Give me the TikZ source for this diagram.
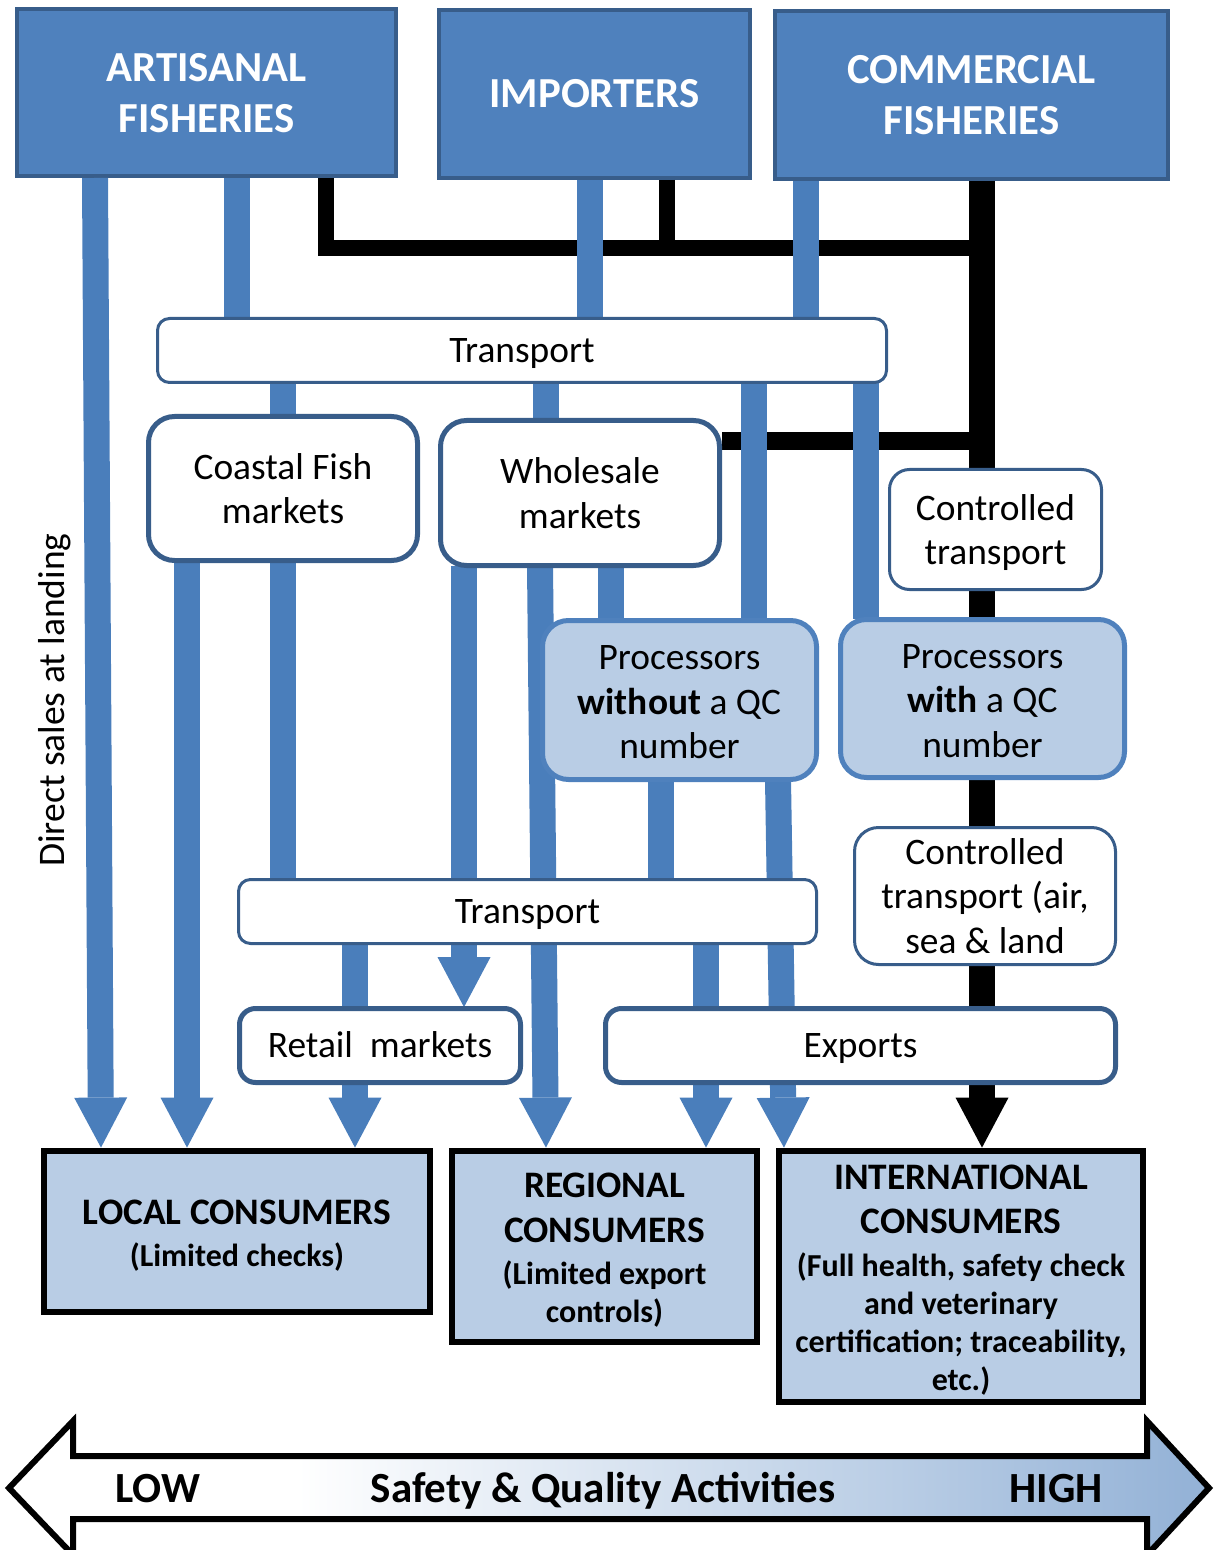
\documentclass[tikz,border=0pt]{standalone}
\usepackage{fontspec}
\setmainfont{Carlito}
\usetikzlibrary{arrows.meta}
\definecolor{topfill}{RGB}{79,129,189}
\definecolor{topline}{RGB}{56,93,138}
\definecolor{barblue}{RGB}{74,126,187}
\definecolor{lightfill}{RGB}{185,205,229}
\definecolor{procline}{RGB}{79,129,189}
\definecolor{highblue}{RGB}{149,179,215}
\pgfdeclarehorizontalshading{lowhigh}{100bp}{color(0bp)=(white); color(37bp)=(white); color(49.5bp)=(white!50!lightfill); color(62bp)=(lightfill); color(74bp)=(highblue); color(100bp)=(highblue)}
\tikzset{
  topbox/.style={draw=topline, line width=2pt, fill=topfill, text=white,
    font=\fontsize{21.4}{25.5}\selectfont\bfseries, align=flush center, inner sep=0pt},
  wbox/.style={draw=topline, fill=white, line width=2.5pt, rounded corners=13pt,
    font=\fontsize{18.7}{22.25}\selectfont, align=flush center, inner sep=0pt},
  thinbox/.style={wbox, line width=1.5pt},
  onebox/.style={text height=12.2pt, text depth=0pt},
  procbox/.style={draw=procline, fill=lightfill, line width=2.5pt, rounded corners=13pt,
    font=\fontsize{18.7}{22.25}\selectfont, align=flush center, inner sep=0pt},
  consbox/.style={draw=black, fill=lightfill, line width=3pt,
    font=\fontsize{18.7}{19}\selectfont\bfseries, align=flush center, inner sep=0pt},
  bar/.style={draw=barblue, line width=13pt},
  bararrow/.style={bar, -{Triangle[width=26.5pt,length=25pt,line width=0pt]}, shorten >=1.5pt},
  blk/.style={draw=black, line width=8pt},
  blkthick/.style={draw=black, line width=13pt},
  bigtext/.style={font=\fontsize{21.5}{26}\selectfont\bfseries, anchor=base, inner sep=0pt},
}
\newcommand{\parsize}{\fontsize{16}{19}\selectfont}
\newcommand{\lift}[1]{\rule{0pt}{#1}}
\begin{document}
\begin{tikzpicture}[x=0.5pt, y=-0.5pt]
\useasboundingbox (0,0) rectangle (1215,1550);

% ---------- top nodes ----------
\node[topbox, minimum width=189.5pt, minimum height=83.5pt, text width=189.5pt] (art) at (206.5,92.5) {\lift{15pt}ARTISANAL\\FISHERIES};
\node[topbox, minimum width=155.5pt, minimum height=84pt, text width=155.5pt] (imp) at (594.5,94) {IMPORTERS};
\node[topbox, minimum width=196.5pt, minimum height=84pt, text width=196.5pt] (com) at (971.5,95) {COMMERCIAL\\FISHERIES};

\coordinate (jA) at (982,248);
\coordinate (jB) at (982,441);

% ---------- black connectors ----------
\draw[blk] (326,0 |- art.south) |- (jA);
\draw[blk] (667,0 |- imp.south) -- (667,0 |- jA);
\draw[black, line width=9pt] (722,441) -- (jB);

% node frames (drawn later) for connector anchors
\path (522,350.5) node[minimum width=364.5pt, minimum height=32pt, inner sep=0pt] (t1) {};
\path (283,488.5) node[minimum width=134.5pt, minimum height=72pt, inner sep=0pt] (cfm) {};
\path (580,493) node[minimum width=139.5pt, minimum height=72.5pt, inner sep=0pt] (wsm) {};
\path (995.5,529.5) node[minimum width=106pt, minimum height=60pt, inner sep=0pt] (ct) {};
\path (679.5,700) node[minimum width=137pt, minimum height=79.5pt, inner sep=0pt] (pwo) {};
\path (982.5,698.5) node[minimum width=142pt, minimum height=79pt, inner sep=0pt] (pw) {};
\path (985,896) node[minimum width=130.5pt, minimum height=68.5pt, inner sep=0pt] (cta) {};
\path (527.5,911.5) node[minimum width=289pt, minimum height=32pt, inner sep=0pt] (t2) {};
\path (380,1045.5) node[minimum width=140.5pt, minimum height=37pt, inner sep=0pt] (rm) {};
\path (860.5,1045.5) node[minimum width=255pt, minimum height=37pt, inner sep=0pt] (exp) {};
\path (237,1231.5) node[minimum width=193pt, minimum height=80.5pt, inner sep=0pt] (lc) {};
\path (604.5,1246.5) node[minimum width=152.5pt, minimum height=95.5pt, inner sep=0pt] (rc) {};
\path (961,1276.5) node[minimum width=182pt, minimum height=125.5pt, inner sep=0pt] (ic) {};

\draw[blkthick, -{Triangle[width=26.5pt,length=25pt,line width=0pt]}, shorten >=1.5pt] (982,0 |- com.south) -- (982,0 |- ic.north);

% ---------- blue connectors ----------
\draw[bararrow] (95,0 |- art.south) -- (101,0 |- lc.north);
\draw[bar] (237,0 |- art.south) -- (237,0 |- t1.north);
\draw[bar] (590,0 |- imp.south) -- (590,0 |- t1.north);
\draw[bar] (806,0 |- com.south) -- (806,0 |- t1.north);
\draw[bar] (283,0 |- t1.south) -- (283,0 |- cfm.north);
\draw[bar] (546,0 |- t1.south) -- (546,0 |- wsm.north);
\draw[bar] (754,0 |- t1.south) -- (754,0 |- pwo.north);
\draw[bar] (866,0 |- t1.south) -- (866,0 |- pw.north);
\draw[bararrow] (187,0 |- cfm.south) -- (187,0 |- lc.north);
\draw[bar] (283,0 |- cfm.south) -- (283,0 |- t2.north);
\draw[bararrow, shorten >=0.5pt] (464,0 |- wsm.south) -- (464,0 |- rm.north);
\draw[bararrow] (540,0 |- wsm.south) -- (546,0 |- rc.north);
\draw[bar] (611,0 |- wsm.south) -- (611,0 |- pwo.north);
\draw[bar] (661,0 |- pwo.south) -- (661,0 |- t2.north);
\draw[bararrow] (778,0 |- pwo.south) -- (784,0 |- ic.north);
\draw[bararrow] (355,0 |- t2.south) -- (355,0 |- lc.north);
\draw[bararrow] (706,0 |- t2.south) -- (706,0 |- rc.north);

% ---------- boxes ----------
\node[thinbox, onebox, rounded corners=6pt, minimum width=364.5pt, minimum height=32pt] (t1b) at (t1) {Transport};
\node[wbox, minimum width=134.5pt, minimum height=72pt, text width=134.5pt] (cfmb) at (cfm) {Coastal Fish\\markets};
\node[wbox, minimum width=139.5pt, minimum height=72.5pt, text width=139.5pt] (wsmb) at (wsm) {Wholesale\\markets};
\node[thinbox, rounded corners=10pt, minimum width=106pt, minimum height=60pt, text width=106pt] (ctb) at (ct) {\lift{15.9pt}Controlled\\transport};
\node[procbox, minimum width=137pt, minimum height=79.5pt, text width=137pt] (pwob) at (pwo) {\lift{14.3pt}Processors\\\textbf{without} a QC\\number};
\node[procbox, minimum width=142pt, minimum height=79pt, text width=142pt] (pwb) at (pw) {\lift{14.3pt}Processors\\\textbf{with} a QC\\number};
\node[thinbox, rounded corners=12pt, minimum width=130.5pt, minimum height=68.5pt, text width=130.5pt] (ctab) at (cta) {Controlled\\transport (air,\\sea \& land};
\node[thinbox, onebox, rounded corners=6pt, minimum width=289pt, minimum height=32pt] (t2b) at (t2) {Transport};
\node[wbox, onebox, rounded corners=8pt, minimum width=140.5pt, minimum height=37pt] (rmb) at (rm) {Retail\ \ markets};
\node[wbox, onebox, rounded corners=8pt, minimum width=255pt, minimum height=37pt] (expb) at (exp) {Exports};

\node[consbox, minimum width=193pt, minimum height=80.5pt, text width=193pt] (lcb) at (lc)
  {\lift{16.3pt}LOCAL CONSUMERS\\[2pt]\parsize(Limited checks)};
\node[consbox, minimum width=152.5pt, minimum height=95.5pt, text width=152.5pt] (rcb) at (rc)
  {\lift{16.3pt}REGIONAL\\[3.5pt]CONSUMERS\\[2pt]\parsize(Limited export\\controls)};
\node[consbox, minimum width=182pt, minimum height=125.5pt, text width=182pt] (icb) at (ic)
  {\lift{16.3pt}INTERNATIONAL\\[3pt]CONSUMERS\\[2.5pt]\parsize(Full health, safety check\\and veterinary\\certification; traceability,\\etc.)};

\node[rotate=90, font=\fontsize{18.75}{22}\selectfont, inner sep=0pt] (dsl) at (55,700) {Direct sales at landing};

% ---------- bottom double arrow ----------
\begin{scope}
\clip (0,0) rectangle (1215,1550);
\path[draw=black, line width=3pt, line join=miter, shading=lowhigh]
  (9,1488) -- (73,1421) -- (73,1456) -- (1147,1456) -- (1147,1421) -- (1209,1488)
  -- (1147,1555) -- (1147,1519) -- (73,1519) -- (73,1555) -- cycle;
\end{scope}
\node[bigtext] (low) at (158,1502) {LOW};
\node[bigtext] (saf) at (603,1502) {Safety \& Quality Activities};
\node[bigtext] (high) at (1056,1502) {HIGH};
\end{tikzpicture}
\end{document}
